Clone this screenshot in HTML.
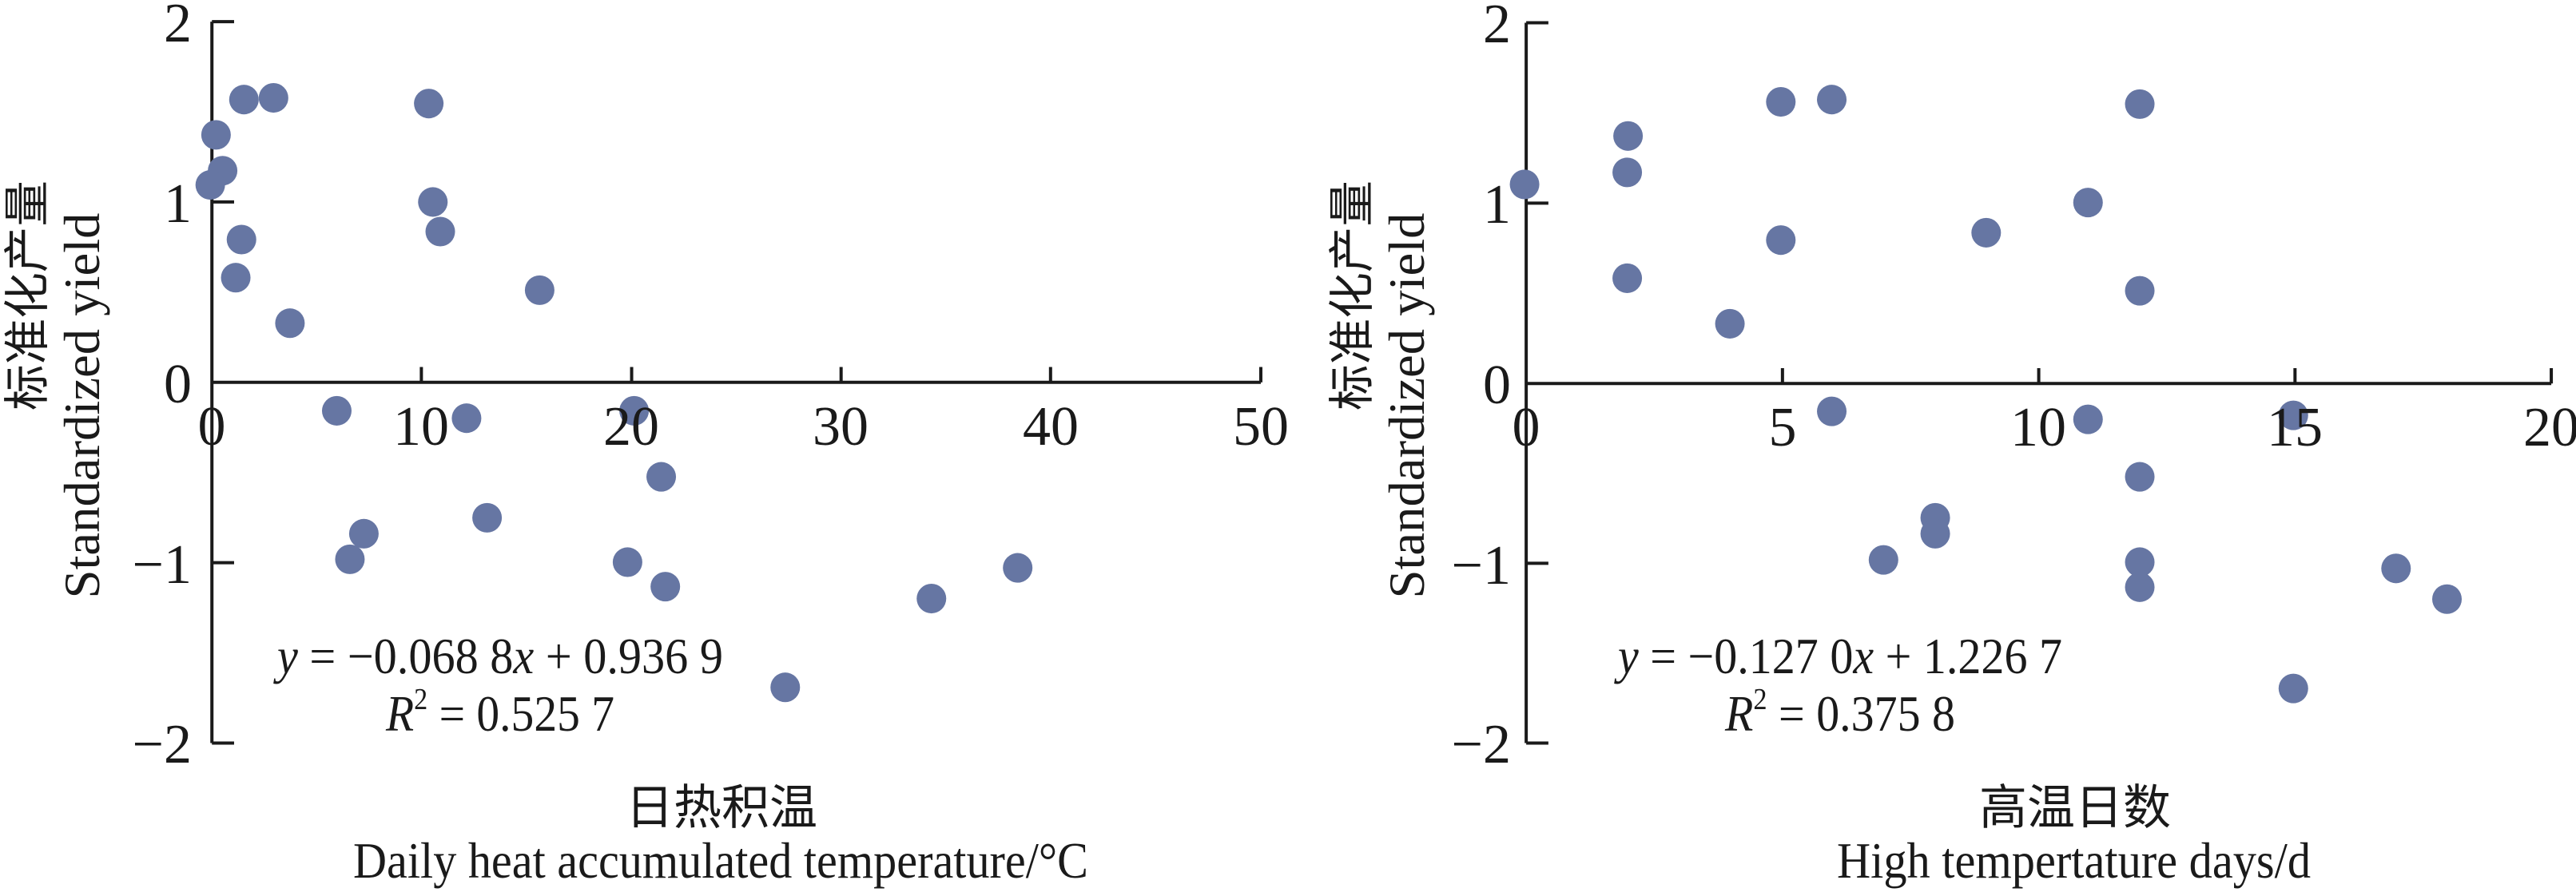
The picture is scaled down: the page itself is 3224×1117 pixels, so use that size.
<!DOCTYPE html>
<html><head><meta charset="utf-8"><style>
html,body{margin:0;padding:0;background:#fff;overflow:hidden;}
svg{display:block;}
</style></head><body>
<svg width="3224" height="1117" viewBox="0 0 3224 1117" xmlns="http://www.w3.org/2000/svg" font-family="'Liberation Serif', 'DejaVu Serif', serif" fill="#1a1a1a">
<rect width="3224" height="1117" fill="#fff"/>
<!-- LEFT shapes -->
<g transform="scale(1.028,0.7125)">
<g stroke="#1a1a1a" stroke-width="4" fill="none">
<line x1="258" y1="38" x2="258" y2="1306" vector-effect="non-scaling-stroke"/>
<line x1="258" y1="672" x2="1535" y2="672" vector-effect="non-scaling-stroke"/>
<line x1="258" y1="38" x2="285" y2="38" vector-effect="non-scaling-stroke"/>
<line x1="258" y1="355" x2="285" y2="355" vector-effect="non-scaling-stroke"/>
<line x1="258" y1="989" x2="285" y2="989" vector-effect="non-scaling-stroke"/>
<line x1="258" y1="1306" x2="285" y2="1306" vector-effect="non-scaling-stroke"/>
<line x1="513" y1="672" x2="513" y2="645" vector-effect="non-scaling-stroke"/>
<line x1="769" y1="672" x2="769" y2="645" vector-effect="non-scaling-stroke"/>
<line x1="1024" y1="672" x2="1024" y2="645" vector-effect="non-scaling-stroke"/>
<line x1="1279" y1="672" x2="1279" y2="645" vector-effect="non-scaling-stroke"/>
<line x1="1535" y1="672" x2="1535" y2="645" vector-effect="non-scaling-stroke"/>
</g>
<g fill="#6676a3">
<ellipse cx="297" cy="175" rx="18" ry="26"/><ellipse cx="333" cy="172" rx="18" ry="26"/><ellipse cx="522" cy="182" rx="18" ry="26"/><ellipse cx="263" cy="237" rx="18" ry="26"/><ellipse cx="271" cy="300" rx="18" ry="26"/><ellipse cx="256" cy="325" rx="18" ry="26"/><ellipse cx="527" cy="355" rx="18" ry="26"/><ellipse cx="294" cy="421" rx="18" ry="26"/><ellipse cx="536" cy="407" rx="18" ry="26"/><ellipse cx="287" cy="488" rx="18" ry="26"/><ellipse cx="657" cy="510" rx="18" ry="26"/><ellipse cx="353" cy="568" rx="18" ry="26"/><ellipse cx="410" cy="722" rx="18" ry="26"/><ellipse cx="568" cy="735" rx="18" ry="26"/><ellipse cx="772" cy="722" rx="18" ry="26"/><ellipse cx="805" cy="838" rx="18" ry="26"/><ellipse cx="593" cy="910" rx="18" ry="26"/><ellipse cx="443" cy="938" rx="18" ry="26"/><ellipse cx="426" cy="983" rx="18" ry="26"/><ellipse cx="764" cy="988" rx="18" ry="26"/><ellipse cx="810" cy="1031" rx="18" ry="26"/><ellipse cx="1134" cy="1052" rx="18" ry="26"/><ellipse cx="1239" cy="998" rx="18" ry="26"/><ellipse cx="956" cy="1208" rx="18" ry="26"/>
</g>
</g>
<!-- RIGHT shapes -->
<g transform="translate(1612,0) scale(1.028,0.7125)">
<g stroke="#1a1a1a" stroke-width="4" fill="none">
<line x1="290" y1="40" x2="290" y2="1306" vector-effect="non-scaling-stroke"/>
<line x1="290" y1="674" x2="1538" y2="674" vector-effect="non-scaling-stroke"/>
<line x1="290" y1="40" x2="317" y2="40" vector-effect="non-scaling-stroke"/>
<line x1="290" y1="357" x2="317" y2="357" vector-effect="non-scaling-stroke"/>
<line x1="290" y1="990" x2="317" y2="990" vector-effect="non-scaling-stroke"/>
<line x1="290" y1="1306" x2="317" y2="1306" vector-effect="non-scaling-stroke"/>
<line x1="602" y1="674" x2="602" y2="647" vector-effect="non-scaling-stroke"/>
<line x1="914" y1="674" x2="914" y2="647" vector-effect="non-scaling-stroke"/>
<line x1="1226" y1="674" x2="1226" y2="647" vector-effect="non-scaling-stroke"/>
<line x1="1538" y1="674" x2="1538" y2="647" vector-effect="non-scaling-stroke"/>
</g>
<g fill="#6676a3">
<ellipse cx="414" cy="239" rx="18" ry="26"/><ellipse cx="600" cy="179" rx="18" ry="26"/><ellipse cx="662" cy="175" rx="18" ry="26"/><ellipse cx="1037" cy="183" rx="18" ry="26"/><ellipse cx="288" cy="324" rx="18" ry="26"/><ellipse cx="413" cy="303" rx="18" ry="26"/><ellipse cx="974" cy="356" rx="18" ry="26"/><ellipse cx="600" cy="422" rx="18" ry="26"/><ellipse cx="850" cy="409" rx="18" ry="26"/><ellipse cx="413" cy="489" rx="18" ry="26"/><ellipse cx="1037" cy="511" rx="18" ry="26"/><ellipse cx="538" cy="569" rx="18" ry="26"/><ellipse cx="662" cy="723" rx="18" ry="26"/><ellipse cx="974" cy="737" rx="18" ry="26"/><ellipse cx="1224" cy="730" rx="18" ry="26"/><ellipse cx="1037" cy="838" rx="18" ry="26"/><ellipse cx="788" cy="910" rx="18" ry="26"/><ellipse cx="788" cy="938" rx="18" ry="26"/><ellipse cx="725" cy="984" rx="18" ry="26"/><ellipse cx="1037" cy="988" rx="18" ry="26"/><ellipse cx="1037" cy="1032" rx="18" ry="26"/><ellipse cx="1349" cy="999" rx="18" ry="26"/><ellipse cx="1411" cy="1053" rx="18" ry="26"/><ellipse cx="1224" cy="1210" rx="18" ry="26"/>
</g>
</g>
<!-- LEFT text -->
<g font-size="70" text-anchor="end">
<text x="240" y="52">2</text><text x="240" y="278">1</text><text x="240" y="504">0</text>
<text x="240" y="730">−1</text><text x="240" y="955">−2</text>
</g>
<g font-size="70" text-anchor="middle">
<text x="265" y="557">0</text><text x="527" y="557">10</text><text x="790" y="557">20</text>
<text x="1052" y="557">30</text><text x="1315" y="557">40</text><text x="1578" y="557">50</text>
</g>
<text x="347" y="843" font-size="64" textLength="558" lengthAdjust="spacingAndGlyphs"><tspan font-style="italic">y</tspan> = −0.068 8<tspan font-style="italic">x</tspan> + 0.936 9</text>
<text x="483" y="915" font-size="64" textLength="286" lengthAdjust="spacingAndGlyphs"><tspan font-style="italic">R</tspan><tspan font-size="38" dy="-27">2</tspan><tspan dy="27"> = 0.525 7</tspan></text>
<text font-family="'Noto Sans CJK SC', sans-serif" transform="translate(54,370) rotate(-90)" font-size="58" text-anchor="middle" textLength="288" lengthAdjust="spacingAndGlyphs">标准化产量</text>
<text transform="translate(124,508) rotate(-90)" font-size="64" text-anchor="middle" textLength="483" lengthAdjust="spacingAndGlyphs">Standardized yield</text>
<text font-family="'Noto Sans CJK SC', sans-serif" x="903" y="1032" font-size="60" text-anchor="middle">日热积温</text>
<text x="442" y="1099" font-size="64" textLength="920" lengthAdjust="spacingAndGlyphs">Daily heat accumulated temperature/°C</text>
<!-- RIGHT text -->
<g font-size="70" text-anchor="end">
<text x="1891" y="53">2</text><text x="1891" y="279">1</text><text x="1891" y="505">0</text>
<text x="1891" y="731">−1</text><text x="1891" y="955">−2</text>
</g>
<g font-size="70" text-anchor="middle">
<text x="1910" y="558">0</text><text x="2231" y="558">5</text><text x="2551" y="558">10</text>
<text x="2872" y="558">15</text><text x="3193" y="558">20</text>
</g>
<text x="2025" y="843" font-size="64" textLength="556" lengthAdjust="spacingAndGlyphs"><tspan font-style="italic">y</tspan> = −0.127 0<tspan font-style="italic">x</tspan> + 1.226 7</text>
<text x="2159" y="915" font-size="64" textLength="288" lengthAdjust="spacingAndGlyphs"><tspan font-style="italic">R</tspan><tspan font-size="38" dy="-27">2</tspan><tspan dy="27"> = 0.375 8</tspan></text>
<text font-family="'Noto Sans CJK SC', sans-serif" transform="translate(1712,370) rotate(-90)" font-size="58" text-anchor="middle" textLength="288" lengthAdjust="spacingAndGlyphs">标准化产量</text>
<text transform="translate(1782,508) rotate(-90)" font-size="64" text-anchor="middle" textLength="483" lengthAdjust="spacingAndGlyphs">Standardized yield</text>
<text font-family="'Noto Sans CJK SC', sans-serif" x="2597" y="1032" font-size="60" text-anchor="middle">高温日数</text>
<text x="2299" y="1099" font-size="64" textLength="593" lengthAdjust="spacingAndGlyphs">High tempertature days/d</text>
</svg>
</body></html>
